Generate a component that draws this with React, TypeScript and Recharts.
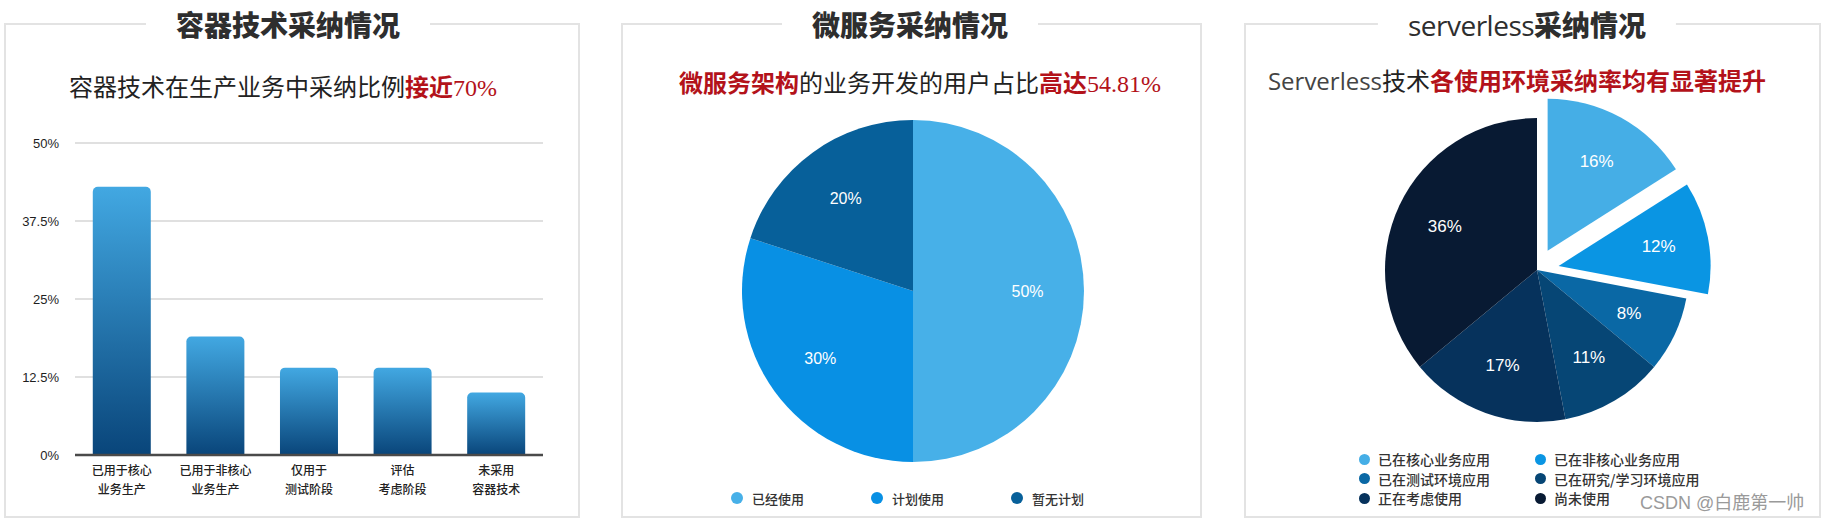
import React from 'react';
import { BarChart, Bar, XAxis, YAxis, CartesianGrid, PieChart, Pie, Cell, Legend } from 'recharts';

// ---------- data ----------
const BAR_CATEGORIES = ['已用于核心\n业务生产', '已用于非核心\n业务生产', '仅用于\n测试阶段', '评估\n考虑阶段', '未采用\n容器技术'];
const BAR_VALUES = [43, 19, 14, 14, 10];
const BAR_TICKS = [0, 12.5, 25, 37.5, 50];

const MID_NAMES = ['已经使用', '计划使用', '暂无计划'];
const MID_VALUES = [50, 30, 20];
const MID_COLORS = ['#47b0e8', '#0890e4', '#07609a'];

const RIGHT_NAMES = ['已在核心业务应用', '已在非核心业务应用', '已在测试环境应用', '已在研究/学习环境应用', '正在考虑使用', '尚未使用'];
const RIGHT_VALUES = [16, 12, 8, 11, 17, 36];
const RIGHT_COLORS = ['#45aee6', '#0a95e3', '#0a68a5', '#064675', '#06325c', '#081a33'];
const RIGHT_EXPLODED = [0, 1];

const CJK = '"Noto Sans CJK SC", "Noto Sans", sans-serif';
const LATIN = '"Liberation Sans", Arial, "Noto Sans CJK SC", sans-serif';
const RED = '#b3121a';
const RAD = Math.PI / 180;

const barData = BAR_CATEGORIES.map((c, i) => ({ name: c, value: BAR_VALUES[i] }));
const midData = MID_NAMES.map((n, i) => ({ name: n, value: MID_VALUES[i] }));
const rightData = RIGHT_NAMES.map((n, i) => ({ name: n, value: RIGHT_VALUES[i] }));

const rightTotal = RIGHT_VALUES.reduce((a, b) => a + b, 0);
const midAngleOf = (i: number) => {
  const before = RIGHT_VALUES.slice(0, i).reduce((a, b) => a + b, 0);
  return 90 - (360 * (before + RIGHT_VALUES[i] / 2)) / rightTotal;
};

const XTick = (props: any) => {
  const { x, y, payload } = props;
  const lines = String(payload.value).split('\n');
  return (
    <g>
      {lines.map((l, i) => (
        <text key={i} x={x} y={y + 14 + i * 19} textAnchor="middle" dominantBaseline="central" fontSize={12} fill="#222" fontFamily={CJK} fontWeight={500}>
          {l}
        </text>
      ))}
    </g>
  );
};

const makeLabel = (visible: (i: number) => boolean, texts: string[], fontSize: number) => (props: any) => {
  const { cx, cy, midAngle, outerRadius, index } = props;
  if (!visible(index)) return null;
  const r = outerRadius * 0.67;
  const x = cx + r * Math.cos(-midAngle * RAD);
  const y = cy + r * Math.sin(-midAngle * RAD);
  return (
    <text x={x} y={y} fill="#fff" fontSize={fontSize} textAnchor="middle" dominantBaseline="central" fontFamily={LATIN}>
      {texts[index]}
    </text>
  );
};

const Panel = ({ left, width, titleX, title }: { left: number; width: number; titleX: number; title: React.ReactNode }) => (
  <>
    <div style={{ position: 'absolute', left, top: 23, width, height: 495, border: '2px solid #e3e3e3', boxSizing: 'border-box' }} />
    <div
      style={{
        position: 'absolute',
        left: titleX,
        top: 24,
        transform: 'translate(-50%, -50%)',
        background: '#fff',
        padding: '0 30px',
        fontFamily: CJK,
        fontSize: 28,
        fontWeight: 900,
        color: '#2e2e2e',
        whiteSpace: 'nowrap',
        lineHeight: '34px',
      }}
    >
      {title}
    </div>
  </>
);

const Subtitle = ({ cx, cy, children }: { cx: number; cy: number; children: React.ReactNode }) => (
  <div
    style={{
      position: 'absolute',
      left: cx,
      top: cy,
      transform: 'translate(-50%, -50%)',
      fontFamily: CJK,
      fontSize: 24,
      color: '#222',
      whiteSpace: 'nowrap',
      lineHeight: '30px',
    }}
  >
    {children}
  </div>
);

const Num = ({ children }: { children: React.ReactNode }) => (
  <span style={{ fontFamily: '"Liberation Serif", "DejaVu Serif", serif', color: RED, fontSize: 24 }}>{children}</span>
);
const RedB = ({ children }: { children: React.ReactNode }) => <span style={{ color: RED, fontWeight: 700 }}>{children}</span>;

const MidLegend = () => (
  <div style={{ position: 'relative', width: 579, height: 20 }}>
    {MID_NAMES.map((n, i) => (
      <div key={n} style={{ position: 'absolute', left: 109 + i * 140, top: 0, height: 20, display: 'flex', alignItems: 'center', whiteSpace: 'nowrap' }}>
        <span style={{ width: 12, height: 12, borderRadius: 6, background: MID_COLORS[i], display: 'inline-block' }} />
        <span style={{ marginLeft: 9, fontFamily: CJK, fontSize: 13, fontWeight: 500, color: '#333' }}>{n}</span>
      </div>
    ))}
  </div>
);

const RightLegend = () => (
  <div style={{ position: 'relative', width: 575, height: 60 }}>
    {RIGHT_NAMES.map((n, i) => (
      <div
        key={n}
        style={{ position: 'absolute', left: i % 2 === 0 ? 114 : 290, top: Math.floor(i / 2) * 19.5, height: 20, display: 'flex', alignItems: 'center', whiteSpace: 'nowrap' }}
      >
        <span style={{ width: 11, height: 11, borderRadius: 6, background: RIGHT_COLORS[i], display: 'inline-block' }} />
        <span style={{ marginLeft: 8, fontFamily: CJK, fontSize: 14, fontWeight: 500, color: '#333' }}>{n}</span>
      </div>
    ))}
  </div>
);

export default function App() {
  const exploded = new Set(RIGHT_EXPLODED);
  const rightTexts = RIGHT_VALUES.map((v) => v + '%');
  const midTexts = MID_VALUES.map((v) => v + '%');
  const baseCx = 292;
  const baseCy = 270;
  const off = 22;

  return (
    <div style={{ position: 'absolute', left: 0, top: 0, width: 1826, height: 519, background: '#fff', overflow: 'hidden' }}>
      {/* ---- left panel ---- */}
      <Panel left={4} width={576} titleX={288} title="容器技术采纳情况" />
      <Subtitle cx={283} cy={87}>
        容器技术在生产业务中采纳比例<RedB>接近</RedB>
        <Num>70%</Num>
      </Subtitle>
      <div style={{ position: 'absolute', left: 0, top: 0 }}>
        <BarChart width={579} height={519} data={barData} margin={{ top: 143, right: 36, left: 0, bottom: 14 }} barCategoryGap="19%">
          <defs>
            <linearGradient id="barGrad" x1="0" y1="0" x2="0" y2="1">
              <stop offset="0%" stopColor="#42a8e2" />
              <stop offset="100%" stopColor="#09457a" />
            </linearGradient>
          </defs>
          <CartesianGrid vertical={false} stroke="#d6d6d6" strokeWidth={1.5} />
          <YAxis
            width={75}
            domain={[0, 50]}
            ticks={BAR_TICKS}
            tickFormatter={(v: number) => v + '%'}
            axisLine={false}
            tickLine={false}
            tickSize={0}
            tickMargin={16}
            tick={{ fill: '#1e1e1e', fontSize: 13, fontFamily: LATIN }}
            interval={0}
          />
          <XAxis
            dataKey="name"
            height={50}
            interval={0}
            tickLine={false}
            tickSize={0}
            tickMargin={0}
            axisLine={{ stroke: '#4a4a4a', strokeWidth: 2.5 }}
            tick={<XTick />}
          />
          <Bar dataKey="value" fill="url(#barGrad)" radius={[5, 5, 0, 0]} isAnimationActive={false} />
        </BarChart>
      </div>

      {/* ---- middle panel ---- */}
      <Panel left={621} width={581} titleX={910} title="微服务采纳情况" />
      <Subtitle cx={920} cy={83}>
        <RedB>微服务架构</RedB>的业务开发的用户占比<RedB>高达</RedB>
        <Num>54.81%</Num>
      </Subtitle>
      <div style={{ position: 'absolute', left: 622, top: 0 }}>
        <PieChart width={579} height={519} margin={{ top: 0, right: 0, bottom: 0, left: 0 }}>
          <Pie
            data={midData}
            dataKey="value"
            nameKey="name"
            cx={291}
            cy={291}
            outerRadius={171}
            startAngle={90}
            endAngle={-270}
            stroke="none"
            labelLine={false}
            label={makeLabel(() => true, midTexts, 16)}
            isAnimationActive={false}
          >
            {MID_COLORS.map((c, i) => (
              <Cell key={i} fill={c} />
            ))}
          </Pie>
          <Legend verticalAlign="bottom" wrapperStyle={{ left: 0, top: 488, bottom: 'auto', width: 579 }} content={() => <MidLegend />} />
        </PieChart>
      </div>

      {/* ---- right panel ---- */}
      <Panel
        left={1244}
        width={577}
        titleX={1527}
        title={
          <>
            <span style={{ fontFamily: '"Open Sans", "Noto Sans", sans-serif', fontWeight: 400, letterSpacing: -0.5 }}>serverless</span>采纳情况
          </>
        }
      />
      <Subtitle cx={1517} cy={80}>
        <span style={{ fontFamily: '"Open Sans", "Noto Sans", sans-serif', color: '#444' }}>Serverless</span>技术<RedB>各使用环境采纳率均有显著提升</RedB>
      </Subtitle>
      <div style={{ position: 'absolute', left: 1245, top: 0 }}>
        <PieChart width={575} height={519} margin={{ top: 0, right: 0, bottom: 0, left: 0 }}>
          <Pie
            data={rightData}
            dataKey="value"
            nameKey="name"
            cx={baseCx}
            cy={baseCy}
            outerRadius={152}
            startAngle={90}
            endAngle={-270}
            stroke="none"
            labelLine={false}
            label={makeLabel((i) => !exploded.has(i), rightTexts, 17)}
            isAnimationActive={false}
          >
            {RIGHT_COLORS.map((c, i) => (
              <Cell key={i} fill={exploded.has(i) ? 'transparent' : c} />
            ))}
          </Pie>
          {RIGHT_EXPLODED.map((k) => {
            const a = midAngleOf(k);
            return (
              <Pie
                key={'ex' + k}
                data={rightData}
                dataKey="value"
                nameKey="name"
                cx={baseCx + off * Math.cos(a * RAD)}
                cy={baseCy - off * Math.sin(a * RAD)}
                outerRadius={152}
                startAngle={90}
                endAngle={-270}
                stroke="none"
                labelLine={false}
                legendType="none"
                label={makeLabel((i) => i === k, rightTexts, 17)}
                isAnimationActive={false}
              >
                {RIGHT_COLORS.map((c, i) => (
                  <Cell key={i} fill={i === k ? c : 'transparent'} />
                ))}
              </Pie>
            );
          })}
          <Legend verticalAlign="bottom" wrapperStyle={{ left: 0, top: 449, bottom: 'auto', width: 575 }} content={() => <RightLegend />} />
        </PieChart>
      </div>

      <div style={{ position: 'absolute', left: 1640, top: 501, transform: 'translateY(-50%)', fontFamily: LATIN, fontSize: 18, color: '#9a9a9a', whiteSpace: 'nowrap' }}>
        CSDN @白鹿第一帅
      </div>
    </div>
  );
}
